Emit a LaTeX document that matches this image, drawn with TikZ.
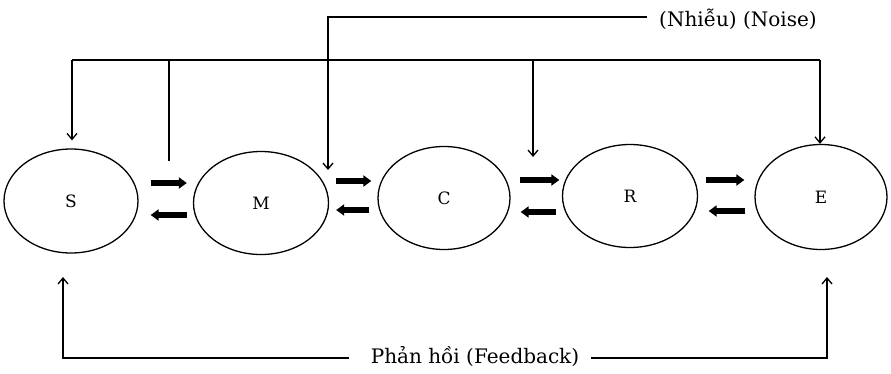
\documentclass[tikz,border=0pt]{standalone}
\usepackage{fontspec}
\setmainfont{DejaVu Serif}
\usetikzlibrary{arrows.meta,shapes.geometric,calc}

\begin{document}
\begin{tikzpicture}[x=1pt,y=-1pt,
  entity/.style={ellipse, draw, line width=1.3pt, inner sep=0pt,
                 font=\fontsize{17}{17}\selectfont},
  flow/.style={line width=6pt, -{Triangle[length=8pt,width=11pt]}},
  link/.style={line width=1.4pt},
  tip/.style={link, -{Straight Barb[length=6pt,width=10pt,line width=1.3pt]}},
  caption/.style={font=\fontsize{20}{20}\selectfont, inner sep=0pt}]
\useasboundingbox (0,0) rectangle (891,373);

% the five stages of the communication chain
\node[entity, minimum width=134pt, minimum height=104pt] (S) at (71,201) {S};
\node[entity, minimum width=135pt, minimum height=103pt] (M) at (261,203) {M};
\node[entity, minimum width=132pt, minimum height=103pt] (C) at (444,198) {C};
\node[entity, minimum width=135pt, minimum height=103pt] (R) at (630,196) {R};
\node[entity, minimum width=132pt, minimum height=105pt] (E) at (821,197) {E};

% forward and backward flows between neighbouring stages
\draw[flow] ($(S.east)+(12,-18)$) -- ($(M.west)+(-6,-20)$);
\draw[flow] ($(M.west)+(-6,12)$) -- ($(S.east)+(12,14)$);
\draw[flow] ($(M.east)+(7,-22)$) -- ($(C.west)+(-6,-17)$);
\draw[flow] ($(C.west)+(-8,12)$) -- ($(M.east)+(7,7)$);
\draw[flow] ($(C.east)+(9,-18)$) -- ($(R.west)+(-2.5,-16)$);
\draw[flow] ($(R.west)+(-5.5,16)$) -- ($(C.east)+(10,14)$);
\draw[flow] ($(R.east)+(7.5,-16)$) -- ($(E.west)+(-10,-17)$);
\draw[flow] ($(E.west)+(-9,14)$) -- ($(R.east)+(10.5,15)$);

% noise
\node[caption, anchor=west] (noise) at (659,19) {(Nhiễu) (Noise)};
\coordinate (nM) at (328,170);
\draw[tip] ([xshift=-12pt]noise.west |- 0,17) -| (nM);

% shared line at the top
\coordinate (busL) at (72,60);
\coordinate (busR) at (820,60);
\coordinate (tapSM) at (169,161);
\coordinate (nR) at (533,157);
\draw[link] (busL) -- (busR);
\draw[link] (tapSM) -- (tapSM |- busL);
\draw[tip, shorten >=8pt] (busL) -- (busL |- S.north);
\draw[tip] (nR |- busL) -- (nR);
\draw[tip] (busR) -- (busR |- E.north);

% feedback
\node[caption] (fb) at (475,357) {Phản hồi (Feedback)};
\coordinate (fS) at (63,277);
\coordinate (fE) at (827,277);
\draw[tip] ([xshift=-22pt]fb.west |- 0,358) -| (fS);
\draw[tip] ([xshift=12pt]fb.east |- 0,358) -| (fE);
\end{tikzpicture}
\end{document}
